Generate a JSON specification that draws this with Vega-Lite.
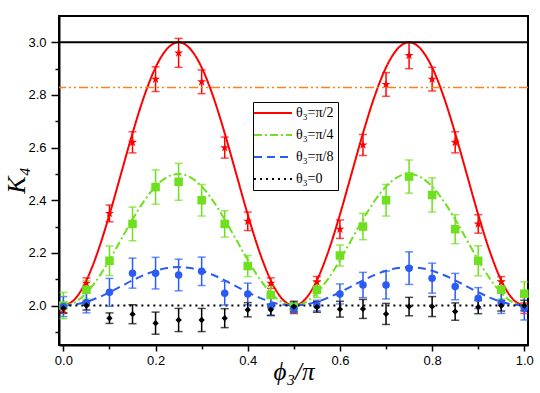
{
 "$schema": "https://vega.github.io/schema/vega-lite/v6.json",
 "width": 469, "height": 329,
 "autosize": {"type": "none"},
 "padding": {"left": 59, "top": 16, "right": 12, "bottom": 48},
 "background": "white",
 "config": {
  "view": {"stroke": "#000", "strokeWidth": 2},
  "axis": {"domainColor": "#000", "domainWidth": 2, "tickColor": "#000", "tickWidth": 1.5, "grid": false, "labelOverlap": false,
   "labelFont": "Liberation Sans", "labelFontSize": 13, "labelColor": "#000",
   "titleFont": "Liberation Serif", "titleFontStyle": "italic", "titleFontWeight": "normal", "titleColor": "#000"}
 },
 "resolve": {"axis": {"y": "independent"}, "legend": {"color": "independent", "strokeDash": "independent", "shape": "independent", "size": "independent"}},
 "datasets": {
  "pts": [
   {"p":0,"k":1.985,"e":0.015,"s":"θ₃=π/2"},{"p":0.05,"k":2.085,"e":0.02,"s":"θ₃=π/2"},{"p":0.1,"k":2.35,"e":0.032,"s":"θ₃=π/2"},{"p":0.15,"k":2.62,"e":0.04,"s":"θ₃=π/2"},{"p":0.2,"k":2.86,"e":0.047,"s":"θ₃=π/2"},{"p":0.25,"k":2.96,"e":0.055,"s":"θ₃=π/2"},{"p":0.3,"k":2.85,"e":0.045,"s":"θ₃=π/2"},{"p":0.35,"k":2.6,"e":0.04,"s":"θ₃=π/2"},{"p":0.4,"k":2.32,"e":0.035,"s":"θ₃=π/2"},{"p":0.45,"k":2.085,"e":0.02,"s":"θ₃=π/2"},{"p":0.5,"k":1.985,"e":0.015,"s":"θ₃=π/2"},{"p":0.55,"k":2.09,"e":0.02,"s":"θ₃=π/2"},{"p":0.6,"k":2.29,"e":0.035,"s":"θ₃=π/2"},{"p":0.65,"k":2.61,"e":0.04,"s":"θ₃=π/2"},{"p":0.7,"k":2.84,"e":0.045,"s":"θ₃=π/2"},{"p":0.75,"k":2.95,"e":0.05,"s":"θ₃=π/2"},{"p":0.8,"k":2.86,"e":0.045,"s":"θ₃=π/2"},{"p":0.85,"k":2.62,"e":0.04,"s":"θ₃=π/2"},{"p":0.9,"k":2.31,"e":0.035,"s":"θ₃=π/2"},{"p":0.95,"k":2.09,"e":0.02,"s":"θ₃=π/2"},{"p":1.0,"k":1.99,"e":0.02,"s":"θ₃=π/2"},
   {"p":0,"k":2.0,"e":0.05,"s":"θ₃=π/4"},{"p":0.05,"k":2.06,"e":0.035,"s":"θ₃=π/4"},{"p":0.1,"k":2.17,"e":0.056,"s":"θ₃=π/4"},{"p":0.15,"k":2.31,"e":0.064,"s":"θ₃=π/4"},{"p":0.2,"k":2.45,"e":0.065,"s":"θ₃=π/4"},{"p":0.25,"k":2.47,"e":0.07,"s":"θ₃=π/4"},{"p":0.3,"k":2.4,"e":0.06,"s":"θ₃=π/4"},{"p":0.35,"k":2.31,"e":0.05,"s":"θ₃=π/4"},{"p":0.4,"k":2.15,"e":0.04,"s":"θ₃=π/4"},{"p":0.45,"k":2.04,"e":0.035,"s":"θ₃=π/4"},{"p":0.5,"k":1.995,"e":0.015,"s":"θ₃=π/4"},{"p":0.55,"k":2.06,"e":0.03,"s":"θ₃=π/4"},{"p":0.6,"k":2.19,"e":0.04,"s":"θ₃=π/4"},{"p":0.65,"k":2.3,"e":0.05,"s":"θ₃=π/4"},{"p":0.7,"k":2.4,"e":0.06,"s":"θ₃=π/4"},{"p":0.75,"k":2.49,"e":0.063,"s":"θ₃=π/4"},{"p":0.8,"k":2.42,"e":0.065,"s":"θ₃=π/4"},{"p":0.85,"k":2.29,"e":0.055,"s":"θ₃=π/4"},{"p":0.9,"k":2.17,"e":0.057,"s":"θ₃=π/4"},{"p":0.95,"k":2.06,"e":0.035,"s":"θ₃=π/4"},{"p":1.0,"k":2.045,"e":0.045,"s":"θ₃=π/4"},
   {"p":0,"k":1.996,"e":0.038,"s":"θ₃=π/8"},{"p":0.05,"k":2.01,"e":0.038,"s":"θ₃=π/8"},{"p":0.1,"k":2.05,"e":0.053,"s":"θ₃=π/8"},{"p":0.15,"k":2.123,"e":0.057,"s":"θ₃=π/8"},{"p":0.2,"k":2.123,"e":0.06,"s":"θ₃=π/8"},{"p":0.25,"k":2.116,"e":0.06,"s":"θ₃=π/8"},{"p":0.3,"k":2.13,"e":0.054,"s":"θ₃=π/8"},{"p":0.35,"k":2.047,"e":0.045,"s":"θ₃=π/8"},{"p":0.4,"k":2.044,"e":0.041,"s":"θ₃=π/8"},{"p":0.45,"k":1.996,"e":0.035,"s":"θ₃=π/8"},{"p":0.5,"k":1.99,"e":0.02,"s":"θ₃=π/8"},{"p":0.55,"k":2.0,"e":0.02,"s":"θ₃=π/8"},{"p":0.6,"k":2.044,"e":0.038,"s":"θ₃=π/8"},{"p":0.65,"k":2.078,"e":0.048,"s":"θ₃=π/8"},{"p":0.7,"k":2.078,"e":0.053,"s":"θ₃=π/8"},{"p":0.75,"k":2.142,"e":0.062,"s":"θ₃=π/8"},{"p":0.8,"k":2.104,"e":0.057,"s":"θ₃=π/8"},{"p":0.85,"k":2.072,"e":0.05,"s":"θ₃=π/8"},{"p":0.9,"k":2.028,"e":0.04,"s":"θ₃=π/8"},{"p":0.95,"k":2.01,"e":0.04,"s":"θ₃=π/8"},{"p":1.0,"k":1.99,"e":0.045,"s":"θ₃=π/8"},
   {"p":0,"k":1.99,"e":0.018,"s":"θ₃=0"},{"p":0.05,"k":2.0,"e":0.017,"s":"θ₃=0"},{"p":0.1,"k":1.952,"e":0.02,"s":"θ₃=0"},{"p":0.15,"k":1.967,"e":0.036,"s":"θ₃=0"},{"p":0.2,"k":1.933,"e":0.042,"s":"θ₃=0"},{"p":0.25,"k":1.945,"e":0.044,"s":"θ₃=0"},{"p":0.3,"k":1.945,"e":0.044,"s":"θ₃=0"},{"p":0.35,"k":1.952,"e":0.036,"s":"θ₃=0"},{"p":0.4,"k":1.984,"e":0.027,"s":"θ₃=0"},{"p":0.45,"k":1.984,"e":0.021,"s":"θ₃=0"},{"p":0.5,"k":1.996,"e":0.02,"s":"θ₃=0"},{"p":0.55,"k":1.994,"e":0.02,"s":"θ₃=0"},{"p":0.6,"k":1.986,"e":0.03,"s":"θ₃=0"},{"p":0.65,"k":1.987,"e":0.036,"s":"θ₃=0"},{"p":0.7,"k":1.968,"e":0.04,"s":"θ₃=0"},{"p":0.75,"k":1.996,"e":0.035,"s":"θ₃=0"},{"p":0.8,"k":1.996,"e":0.038,"s":"θ₃=0"},{"p":0.85,"k":1.977,"e":0.033,"s":"θ₃=0"},{"p":0.9,"k":1.994,"e":0.025,"s":"θ₃=0"},{"p":0.95,"k":1.999,"e":0.02,"s":"θ₃=0"},{"p":1.0,"k":2.0,"e":0.02,"s":"θ₃=0"}
  ],
  "curves": [
   {"p":0,"k":2,"s":"θ₃=π/2"},{"p":0.025,"k":2.0245,"s":"θ₃=π/2"},{"p":0.05,"k":2.0955,"s":"θ₃=π/2"},{"p":0.075,"k":2.2061,"s":"θ₃=π/2"},{"p":0.1,"k":2.3455,"s":"θ₃=π/2"},{"p":0.125,"k":2.5,"s":"θ₃=π/2"},{"p":0.15,"k":2.6545,"s":"θ₃=π/2"},{"p":0.175,"k":2.7939,"s":"θ₃=π/2"},{"p":0.2,"k":2.9045,"s":"θ₃=π/2"},{"p":0.225,"k":2.9755,"s":"θ₃=π/2"},{"p":0.25,"k":3,"s":"θ₃=π/2"},{"p":0.275,"k":2.9755,"s":"θ₃=π/2"},{"p":0.3,"k":2.9045,"s":"θ₃=π/2"},{"p":0.325,"k":2.7939,"s":"θ₃=π/2"},{"p":0.35,"k":2.6545,"s":"θ₃=π/2"},{"p":0.375,"k":2.5,"s":"θ₃=π/2"},{"p":0.4,"k":2.3455,"s":"θ₃=π/2"},{"p":0.425,"k":2.2061,"s":"θ₃=π/2"},{"p":0.45,"k":2.0955,"s":"θ₃=π/2"},{"p":0.475,"k":2.0245,"s":"θ₃=π/2"},{"p":0.5,"k":2,"s":"θ₃=π/2"},{"p":0.525,"k":2.0245,"s":"θ₃=π/2"},{"p":0.55,"k":2.0955,"s":"θ₃=π/2"},{"p":0.575,"k":2.2061,"s":"θ₃=π/2"},{"p":0.6,"k":2.3455,"s":"θ₃=π/2"},{"p":0.625,"k":2.5,"s":"θ₃=π/2"},{"p":0.65,"k":2.6545,"s":"θ₃=π/2"},{"p":0.675,"k":2.7939,"s":"θ₃=π/2"},{"p":0.7,"k":2.9045,"s":"θ₃=π/2"},{"p":0.725,"k":2.9755,"s":"θ₃=π/2"},{"p":0.75,"k":3,"s":"θ₃=π/2"},{"p":0.775,"k":2.9755,"s":"θ₃=π/2"},{"p":0.8,"k":2.9045,"s":"θ₃=π/2"},{"p":0.825,"k":2.7939,"s":"θ₃=π/2"},{"p":0.85,"k":2.6545,"s":"θ₃=π/2"},{"p":0.875,"k":2.5,"s":"θ₃=π/2"},{"p":0.9,"k":2.3455,"s":"θ₃=π/2"},{"p":0.925,"k":2.2061,"s":"θ₃=π/2"},{"p":0.95,"k":2.0955,"s":"θ₃=π/2"},{"p":0.975,"k":2.0245,"s":"θ₃=π/2"},{"p":1.0,"k":2,"s":"θ₃=π/2"},
   {"p":0,"k":2,"s":"θ₃=π/4"},{"p":0.025,"k":2.0122,"s":"θ₃=π/4"},{"p":0.05,"k":2.0477,"s":"θ₃=π/4"},{"p":0.075,"k":2.1031,"s":"θ₃=π/4"},{"p":0.1,"k":2.1727,"s":"θ₃=π/4"},{"p":0.125,"k":2.25,"s":"θ₃=π/4"},{"p":0.15,"k":2.3273,"s":"θ₃=π/4"},{"p":0.175,"k":2.3969,"s":"θ₃=π/4"},{"p":0.2,"k":2.4523,"s":"θ₃=π/4"},{"p":0.225,"k":2.4878,"s":"θ₃=π/4"},{"p":0.25,"k":2.5,"s":"θ₃=π/4"},{"p":0.275,"k":2.4878,"s":"θ₃=π/4"},{"p":0.3,"k":2.4523,"s":"θ₃=π/4"},{"p":0.325,"k":2.3969,"s":"θ₃=π/4"},{"p":0.35,"k":2.3273,"s":"θ₃=π/4"},{"p":0.375,"k":2.25,"s":"θ₃=π/4"},{"p":0.4,"k":2.1727,"s":"θ₃=π/4"},{"p":0.425,"k":2.1031,"s":"θ₃=π/4"},{"p":0.45,"k":2.0477,"s":"θ₃=π/4"},{"p":0.475,"k":2.0122,"s":"θ₃=π/4"},{"p":0.5,"k":2,"s":"θ₃=π/4"},{"p":0.525,"k":2.0122,"s":"θ₃=π/4"},{"p":0.55,"k":2.0477,"s":"θ₃=π/4"},{"p":0.575,"k":2.1031,"s":"θ₃=π/4"},{"p":0.6,"k":2.1727,"s":"θ₃=π/4"},{"p":0.625,"k":2.25,"s":"θ₃=π/4"},{"p":0.65,"k":2.3273,"s":"θ₃=π/4"},{"p":0.675,"k":2.3969,"s":"θ₃=π/4"},{"p":0.7,"k":2.4523,"s":"θ₃=π/4"},{"p":0.725,"k":2.4878,"s":"θ₃=π/4"},{"p":0.75,"k":2.5,"s":"θ₃=π/4"},{"p":0.775,"k":2.4878,"s":"θ₃=π/4"},{"p":0.8,"k":2.4523,"s":"θ₃=π/4"},{"p":0.825,"k":2.3969,"s":"θ₃=π/4"},{"p":0.85,"k":2.3273,"s":"θ₃=π/4"},{"p":0.875,"k":2.25,"s":"θ₃=π/4"},{"p":0.9,"k":2.1727,"s":"θ₃=π/4"},{"p":0.925,"k":2.1031,"s":"θ₃=π/4"},{"p":0.95,"k":2.0477,"s":"θ₃=π/4"},{"p":0.975,"k":2.0122,"s":"θ₃=π/4"},{"p":1.0,"k":2,"s":"θ₃=π/4"},
   {"p":0,"k":2,"s":"θ₃=π/8"},{"p":0.025,"k":2.0036,"s":"θ₃=π/8"},{"p":0.05,"k":2.0139,"s":"θ₃=π/8"},{"p":0.075,"k":2.0301,"s":"θ₃=π/8"},{"p":0.1,"k":2.0504,"s":"θ₃=π/8"},{"p":0.125,"k":2.073,"s":"θ₃=π/8"},{"p":0.15,"k":2.0956,"s":"θ₃=π/8"},{"p":0.175,"k":2.1159,"s":"θ₃=π/8"},{"p":0.2,"k":2.1321,"s":"θ₃=π/8"},{"p":0.225,"k":2.1424,"s":"θ₃=π/8"},{"p":0.25,"k":2.146,"s":"θ₃=π/8"},{"p":0.275,"k":2.1424,"s":"θ₃=π/8"},{"p":0.3,"k":2.1321,"s":"θ₃=π/8"},{"p":0.325,"k":2.1159,"s":"θ₃=π/8"},{"p":0.35,"k":2.0956,"s":"θ₃=π/8"},{"p":0.375,"k":2.073,"s":"θ₃=π/8"},{"p":0.4,"k":2.0504,"s":"θ₃=π/8"},{"p":0.425,"k":2.0301,"s":"θ₃=π/8"},{"p":0.45,"k":2.0139,"s":"θ₃=π/8"},{"p":0.475,"k":2.0036,"s":"θ₃=π/8"},{"p":0.5,"k":2,"s":"θ₃=π/8"},{"p":0.525,"k":2.0036,"s":"θ₃=π/8"},{"p":0.55,"k":2.0139,"s":"θ₃=π/8"},{"p":0.575,"k":2.0301,"s":"θ₃=π/8"},{"p":0.6,"k":2.0504,"s":"θ₃=π/8"},{"p":0.625,"k":2.073,"s":"θ₃=π/8"},{"p":0.65,"k":2.0956,"s":"θ₃=π/8"},{"p":0.675,"k":2.1159,"s":"θ₃=π/8"},{"p":0.7,"k":2.1321,"s":"θ₃=π/8"},{"p":0.725,"k":2.1424,"s":"θ₃=π/8"},{"p":0.75,"k":2.146,"s":"θ₃=π/8"},{"p":0.775,"k":2.1424,"s":"θ₃=π/8"},{"p":0.8,"k":2.1321,"s":"θ₃=π/8"},{"p":0.825,"k":2.1159,"s":"θ₃=π/8"},{"p":0.85,"k":2.0956,"s":"θ₃=π/8"},{"p":0.875,"k":2.073,"s":"θ₃=π/8"},{"p":0.9,"k":2.0504,"s":"θ₃=π/8"},{"p":0.925,"k":2.0301,"s":"θ₃=π/8"},{"p":0.95,"k":2.0139,"s":"θ₃=π/8"},{"p":0.975,"k":2.0036,"s":"θ₃=π/8"},{"p":1.0,"k":2,"s":"θ₃=π/8"},
   {"p":0,"k":2,"s":"θ₃=0"},{"p":1.0,"k":2,"s":"θ₃=0"}
  ]
 },
 "layer": [
  {
   "data": {"name": "curves"},
   "mark": {"type": "line", "strokeWidth": 2, "interpolate": "monotone"},
   "encoding": {
    "x": {"field": "p", "type": "quantitative", "scale": {"domain": [-0.0095, 1.008], "nice": false, "zero": false},
     "axis": {"values": [0,0.1,0.2,0.3,0.4,0.5,0.6,0.7,0.8,0.9,1.0],
      "labelExpr": "round(datum.value*10)%2==0 ? format(datum.value,'.1f') : ''",
      "tickSize": {"condition": {"test": "round(datum.value*10)%2==0", "value": 6}, "value": 4},
      "labelPadding": 3, "labelFlush": false,
      "title": "ϕ₃/π", "titleFontSize": 25, "titleY": 34, "titleBaseline": "alphabetic"}},
    "y": {"field": "k", "type": "quantitative", "scale": {"domain": [1.85, 3.1], "nice": false, "zero": false},
     "axis": {"orient": "left", "values": [2.0,2.2,2.4,2.6,2.8,3.0], "format": ".1f", "tickSize": 8,
      "labelPadding": 5, "labelFlush": false,
      "title": "K₄", "titleFontSize": 26, "titleX": -30, "titleY": 164}},
    "color": {"field": "s", "type": "nominal",
     "scale": {"domain": ["θ₃=π/2", "θ₃=π/4", "θ₃=π/8", "θ₃=0"], "range": ["#ff0000", "#6fe01f", "#2a5bf5", "#000000"]},
     "legend": {"title": null, "orient": "none", "legendX": 194, "legendY": 86, "symbolType": "M-4,0H4", "symbolSize": 90, "symbolStrokeWidth": 2, "symbolFillColor": "transparent",
      "labelFont": "Liberation Serif", "labelFontSize": 14, "labelColor": "#000", "labelOffset": 16, "rowPadding": 8, "symbolOffset": 9,
      "strokeColor": "#000", "fillColor": "#fff", "padding": 4, "cornerRadius": 0}},
    "strokeDash": {"field": "s", "type": "nominal",
     "scale": {"domain": ["θ₃=π/2", "θ₃=π/4", "θ₃=π/8", "θ₃=0"], "range": [[1,0], [8,3,2,3], [8,5], [2,4]]},
     "legend": {"title": null, "orient": "none", "legendX": 194, "legendY": 86, "symbolType": "M-4,0H4", "symbolSize": 90, "symbolStrokeWidth": 2, "symbolFillColor": "transparent",
      "labelFont": "Liberation Serif", "labelFontSize": 14, "labelColor": "#000", "labelOffset": 16, "rowPadding": 8, "symbolOffset": 9,
      "strokeColor": "#000", "fillColor": "#fff", "padding": 4, "cornerRadius": 0}}
   }
  },
  {
   "data": {"name": "pts"},
   "mark": {"type": "errorbar", "ticks": {"size": 8, "thickness": 1.5}, "thickness": 1.5},
   "encoding": {
    "x": {"field": "p", "type": "quantitative", "scale": {"domain": [-0.0095, 1.008], "nice": false, "zero": false}},
    "y": {"field": "k", "type": "quantitative", "axis": null, "scale": {"domain": [1.85, 3.1], "nice": false, "zero": false}},
    "yError": {"field": "e"},
    "color": {"field": "s", "type": "nominal", "legend": null,
     "scale": {"domain": ["θ₃=π/2", "θ₃=π/4", "θ₃=π/8", "θ₃=0"], "range": ["#ff0000", "#6fe01f", "#2a5bf5", "#000000"]}}
   }
  },
  {
   "data": {"name": "pts"},
   "mark": {"type": "point", "filled": true, "opacity": 1},
   "encoding": {
    "x": {"field": "p", "type": "quantitative", "scale": {"domain": [-0.0095, 1.008], "nice": false, "zero": false}},
    "y": {"field": "k", "type": "quantitative", "axis": null, "scale": {"domain": [1.85, 3.1], "nice": false, "zero": false}},
    "color": {"field": "s", "type": "nominal", "legend": null,
     "scale": {"domain": ["θ₃=π/2", "θ₃=π/4", "θ₃=π/8", "θ₃=0"], "range": ["#ff0000", "#6fe01f", "#2a5bf5", "#000000"]}},
    "size": {"field": "s", "type": "nominal", "legend": null,
     "scale": {"domain": ["θ₃=π/2", "θ₃=π/4", "θ₃=π/8", "θ₃=0"], "range": [90, 40, 50, 75]}},
    "shape": {"field": "s", "type": "nominal", "legend": null,
     "scale": {"domain": ["θ₃=π/2", "θ₃=π/4", "θ₃=π/8", "θ₃=0"],
      "range": ["M0,-1L0.2245,-0.309L0.951,-0.309L0.363,0.118L0.588,0.809L0,0.382L-0.588,0.809L-0.363,0.118L-0.951,-0.309L-0.2245,-0.309Z", "square", "circle", "diamond"]}}
   }
  },
  {
   "data": {"values": [{"k": 3.0}]},
   "mark": {"type": "rule", "color": "#000", "strokeWidth": 2},
   "encoding": {"y": {"field": "k", "type": "quantitative", "scale": {"domain": [1.85, 3.1], "nice": false, "zero": false},
    "axis": {"orient": "left", "values": [1.9,2.1,2.3,2.5,2.7,2.9], "tickSize": 4, "labels": false, "domain": false, "title": null}}}
  },
  {
   "data": {"values": [{"k": 2.828}]},
   "mark": {"type": "rule", "color": "#ff7f1a", "strokeWidth": 1.5, "strokeDash": [9,3,2,3,2,3]},
   "encoding": {"y": {"field": "k", "type": "quantitative", "axis": null, "scale": {"domain": [1.85, 3.1], "nice": false, "zero": false}}}
  }
 ]
}
